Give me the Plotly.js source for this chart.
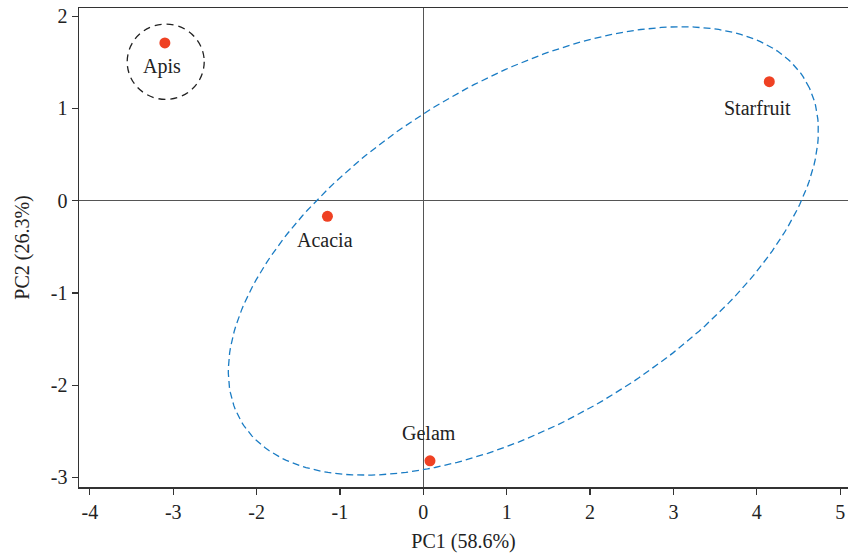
<!DOCTYPE html>
<html>
<head>
<meta charset="utf-8">
<script src="https://cdn.plot.ly/plotly-3.0.1.min.js"></script>
<style>
  html, body { margin: 0; padding: 0; background: #fff; }
  #chart { width: 848px; height: 556px; }
</style>
</head>
<body>
<div id="chart"></div>
<script>
// Sample names and PCA scores
const samples = ["Apis", "Starfruit", "Acacia", "Gelam"];
const pc1 = [-3.10, 4.15, -1.15, 0.08];
const pc2 = [1.71, 1.29, -0.17, -2.82];

// Axis ticks
const xTicks = [-4, -3, -2, -1, 0, 1, 2, 3, 4, 5];
const yTicks = [-3, -2, -1, 0, 1, 2];

// Group ellipse (blue): centre, semi-axes, rotation (deg, data units)
const ellCenter = [1.2, -0.545];
const ellAxes = [3.86, 1.88];
const ellAngle = 27.2;

// Apis circle (black): centre and radii (data units)
const apisCenter = [-3.09, 1.506];
const apisRadii = [0.462, 0.408];

// Label pixel offsets (style)
const labelShift = {
  Apis: [-3, -24],
  Starfruit: [-12, -26],
  Acacia: [-2, -24],
  Gelam: [-1, 28]
};

const ex = [], ey = [];
const th = ellAngle * Math.PI / 180;
const N = 240;
for (let i = 0; i <= N; i++) {
  const t = 2 * Math.PI * i / N;
  const u = ellAxes[0] * Math.cos(t), v = ellAxes[1] * Math.sin(t);
  ex.push(ellCenter[0] + u * Math.cos(th) - v * Math.sin(th));
  ey.push(ellCenter[1] + u * Math.sin(th) + v * Math.cos(th));
}

const FONT = "Liberation Serif, Times New Roman, serif";
const FS = 20;

const traces = [
  {
    x: ex, y: ey, mode: "lines", hoverinfo: "skip",
    line: { color: "#1a7cc4", width: 1.3, dash: "7px,4px" }
  },
  {
    x: pc1, y: pc2, mode: "markers", text: samples,
    marker: { color: "#ef4123", size: 11 }
  }
];

const annotations = samples.map((s, i) => ({
  x: pc1[i], y: pc2[i], text: s, showarrow: false,
  xref: "x", yref: "y",
  xshift: labelShift[s][0], yshift: labelShift[s][1],
  font: { family: FONT, size: FS, color: "#222" }
}));

const layout = {
  width: 848, height: 556,
  margin: { l: 79, r: 0, t: 8, b: 69 },
  paper_bgcolor: "#fff", plot_bgcolor: "#fff",
  showlegend: false,
  font: { family: FONT, size: FS, color: "#222" },
  xaxis: {
    range: [-4.13, 5.094],
    tickvals: xTicks, ticktext: xTicks.map(String),
    showgrid: false, zeroline: true, zerolinecolor: "#555", zerolinewidth: 1,
    showline: true, linecolor: "#333", linewidth: 1.5, mirror: true,
    ticks: "outside", ticklen: 6, tickcolor: "#333", tickwidth: 1.2,
    title: { text: "PC1 (58.6%)", font: { family: FONT, size: FS, color: "#222" }, standoff: 12 },
    tickfont: { family: FONT, size: FS, color: "#222" }
  },
  yaxis: {
    range: [-3.104, 2.089],
    tickvals: yTicks, ticktext: yTicks.map(String),
    showgrid: false, zeroline: true, zerolinecolor: "#555", zerolinewidth: 1,
    showline: true, linecolor: "#333", linewidth: 1.5, mirror: false,
    ticks: "outside", ticklen: 6, tickcolor: "#333", tickwidth: 1.2,
    title: { text: "PC2 (26.3%)", font: { family: FONT, size: FS, color: "#222" }, standoff: 16 },
    tickfont: { family: FONT, size: FS, color: "#222" }
  },
  shapes: [
    {
      type: "circle", xref: "x", yref: "y",
      x0: apisCenter[0] - apisRadii[0], x1: apisCenter[0] + apisRadii[0],
      y0: apisCenter[1] - apisRadii[1], y1: apisCenter[1] + apisRadii[1],
      line: { color: "#222", width: 1.3, dash: "7px,5px" }
    }
  ],
  annotations: annotations
};

Plotly.newPlot("chart", traces, layout, { displayModeBar: false, staticPlot: true });
</script>
</body>
</html>
